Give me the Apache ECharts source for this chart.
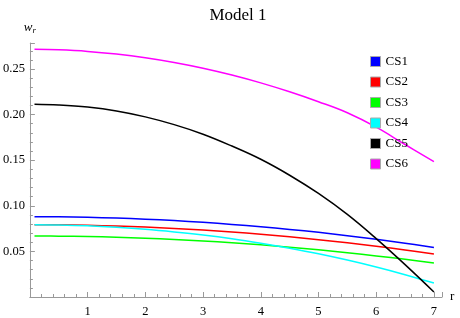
<!DOCTYPE html>
<html>
<head>
<meta charset="utf-8">
<script src="https://cdn.jsdelivr.net/npm/echarts@6/dist/echarts.min.js"></script>
<style>html,body{margin:0;padding:0;background:#fff}#c{width:460px;height:318px}</style>
</head>
<body>
<div id="c"></div>
<script>
const rValues = [0.08, 0.5, 1, 1.5, 2, 2.5, 3, 3.5, 4, 4.5, 5, 5.5, 6, 6.5, 7];
const cs1 = [0.0881, 0.0879, 0.0874, 0.0865, 0.0853, 0.0838, 0.0819, 0.0796, 0.0771, 0.0741, 0.0709, 0.0672, 0.0633, 0.0590, 0.0543];
const cs2 = [0.0793, 0.0791, 0.0786, 0.0778, 0.0767, 0.0752, 0.0734, 0.0713, 0.0688, 0.0660, 0.0629, 0.0594, 0.0557, 0.0515, 0.0471];
const cs3 = [0.0669, 0.0667, 0.0663, 0.0655, 0.0645, 0.0631, 0.0614, 0.0595, 0.0572, 0.0546, 0.0517, 0.0485, 0.0450, 0.0413, 0.0372];
const cs4 = [0.0793, 0.0790, 0.0781, 0.0765, 0.0743, 0.0714, 0.0680, 0.0639, 0.0590, 0.0535, 0.0474, 0.0405, 0.0329, 0.0245, 0.0153];
const cs5 = [0.2113, 0.2105, 0.2082, 0.2040, 0.1975, 0.1890, 0.1785, 0.1655, 0.1510, 0.1335, 0.1135, 0.0905, 0.0640, 0.0355, 0.0055];
const cs6 = [0.2716, 0.2710, 0.2693, 0.2664, 0.2624, 0.2572, 0.2509, 0.2434, 0.2348, 0.2250, 0.2141, 0.2020, 0.1862, 0.1672, 0.1484];
const seriesNames = ['CS1', 'CS2', 'CS3', 'CS4', 'CS5', 'CS6'];
const seriesColors = ['#0000ff', '#ff0000', '#00ff00', '#00ffff', '#000000', '#ff00ff'];
const seriesValues = [cs1, cs2, cs3, cs4, cs5, cs6];
const yTickLabels = ['0.05', '0.10', '0.15', '0.20', '0.25'];
const xTickLabels = ['1', '2', '3', '4', '5', '6', '7'];

const serif = 'Liberation Serif';
const chart = echarts.init(document.getElementById('c'));
chart.setOption({
  animation: false,
  backgroundColor: '#fff',
  title: {
    text: 'Model 1', left: 233, top: 2, textAlign: 'center',
    textStyle: { fontFamily: serif, fontSize: 17, fontWeight: 'normal', color: '#000' }
  },
  legend: {
    orient: 'vertical', left: 365, top: 50,
    icon: 'rect', itemWidth: 10, itemHeight: 10, itemGap: 7.5,
    itemStyle: { borderColor: '#aaa', borderWidth: 1 },
    textStyle: { fontFamily: serif, fontSize: 13, color: '#000' },
    data: seriesNames
  },
  grid: { left: 27, right: 18, top: 43, bottom: 21, containLabel: false },
  xAxis: {
    type: 'value', min: 0, max: 7.14, interval: 1,
    name: 'r', nameLocation: 'end', nameGap: 8,
    nameTextStyle: { fontFamily: serif, fontSize: 13, color: '#000', verticalAlign: 'middle' },
    axisLine: { lineStyle: { color: '#999' } },
    axisTick: { inside: true, length: 5, lineStyle: { color: '#999' } },
    minorTick: { show: true, splitNumber: 5, length: 3, lineStyle: { color: '#999' } },
    splitLine: { show: false },
    axisLabel: { fontFamily: serif, fontSize: 12.5, color: '#000', margin: 8,
      formatter: v => { const s = String(Math.round(v)); return (Math.abs(v - Math.round(v)) < 1e-6 && xTickLabels.includes(s)) ? s : ''; } }
  },
  yAxis: {
    type: 'value', min: 0, max: 0.2785, interval: 0.05,
    name: '{w|w}{r|r}', nameLocation: 'end', nameGap: 8,
    nameTextStyle: {
      align: 'center',
      rich: {
        w: { fontFamily: serif, fontStyle: 'italic', fontSize: 13, color: '#000' },
        r: { fontFamily: serif, fontStyle: 'italic', fontSize: 9, color: '#000', verticalAlign: 'bottom', padding: [6, 0, 0, 0] }
      }
    },
    axisLine: { lineStyle: { color: '#999' } },
    axisTick: { inside: true, length: 5, lineStyle: { color: '#999' } },
    minorTick: { show: true, splitNumber: 5, length: 3, lineStyle: { color: '#999' } },
    splitLine: { show: false },
    axisLabel: { fontFamily: serif, fontSize: 12.5, color: '#000', margin: 5,
      formatter: v => { const s = v.toFixed(2); return yTickLabels.includes(s) ? s : ''; } }
  },
  series: seriesNames.map((name, i) => ({
    name, type: 'line', symbol: 'none', smooth: 0.4,
    color: seriesColors[i],
    lineStyle: { color: seriesColors[i], width: 1.5 },
    data: rValues.map((r, j) => [r, seriesValues[i][j]])
  }))
});
</script>
</body>
</html>
